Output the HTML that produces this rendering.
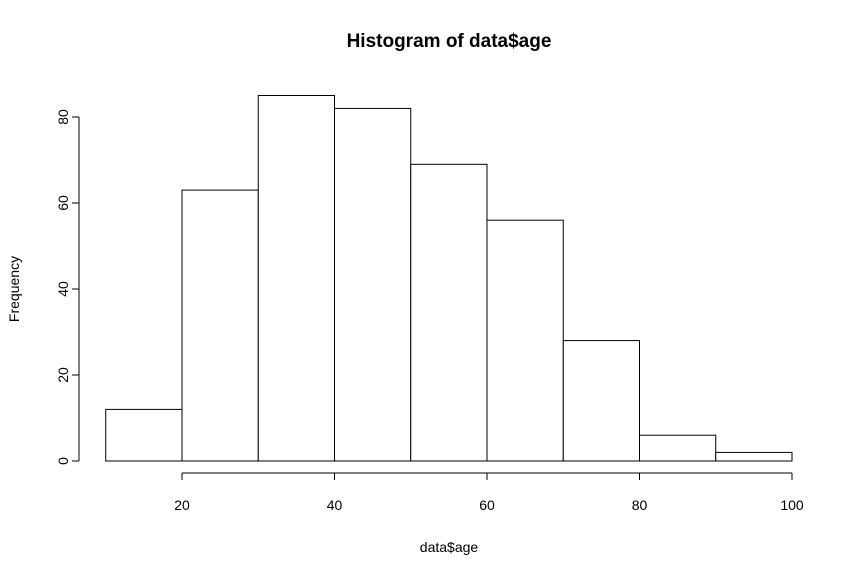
<!DOCTYPE html>
<html><head><meta charset="utf-8"><style>
body{margin:0;background:#fff}
svg{display:block;font-family:"Liberation Sans",Arial,sans-serif}
</style></head><body>
<svg id="chart" width="860" height="574">
<text x="449" y="47" text-anchor="middle" font-size="19" font-weight="bold">Histogram of data$age</text>
<text x="449" y="552" text-anchor="middle" font-size="14">data$age</text>
<text transform="translate(19,289) rotate(-90)" text-anchor="middle" font-size="14">Frequency</text>
<g id="bars"></g><g id="xaxis"></g><g id="yaxis"></g>
</svg>
<script>
const breaks=[10,20,30,40,50,60,70,80,90,100];
const counts=[12,63,85,82,69,56,28,6,2];
const xTicks=[20,40,60,80,100];
const yTicks=[0,20,40,60,80];
const ns="http://www.w3.org/2000/svg";
const xs=v=>182+(v-20)*7.625;
const ys=v=>461-v*4.3;
function mk(t,a,p){const e=document.createElementNS(ns,t);for(const k in a)e.setAttribute(k,a[k]);p.appendChild(e);return e;}
const bars=document.getElementById('bars');
counts.forEach((c,i)=>{
 const r=mk('rect',{x:xs(breaks[i]),y:ys(c),width:xs(breaks[i+1])-xs(breaks[i]),height:ys(0)-ys(c),fill:'#fff',stroke:'#000','stroke-width':1},bars);
 
 
});
const xa=document.getElementById('xaxis');
mk('line',{x1:xs(xTicks[0]),x2:xs(xTicks[xTicks.length-1]),y1:473,y2:473,stroke:'#000'},xa);
xTicks.forEach(t=>{
 mk('line',{x1:xs(t),x2:xs(t),y1:473,y2:480,stroke:'#000'},xa);
 const l=mk('text',{x:xs(t),y:510,'text-anchor':'middle','font-size':14},xa);l.textContent=t;
 
 
});
const ya=document.getElementById('yaxis');
mk('line',{x1:79,x2:79,y1:ys(yTicks[0]),y2:ys(yTicks[yTicks.length-1]),stroke:'#000'},ya);
yTicks.forEach(t=>{
 mk('line',{x1:72,x2:79,y1:ys(t),y2:ys(t),stroke:'#000'},ya);
 const l=mk('text',{transform:`translate(68,${ys(t)}) rotate(-90)`,'text-anchor':'middle','font-size':14},ya);l.textContent=t;
 
 
});
</script>
</body></html>
